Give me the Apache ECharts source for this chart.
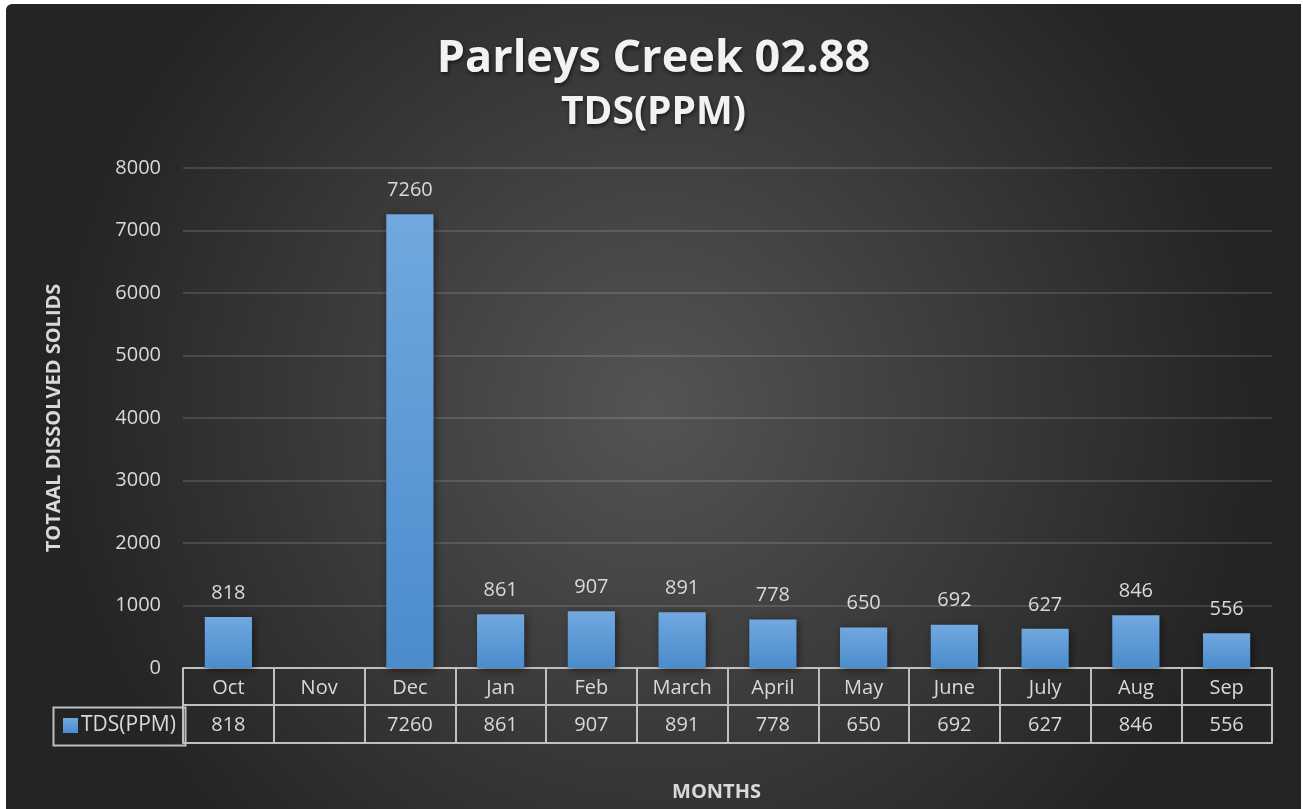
<!DOCTYPE html>
<html>
<head>
<meta charset="utf-8">
<script src="https://cdn.jsdelivr.net/npm/echarts@6/dist/echarts.min.js"></script>
<style>
    html, body { margin: 0; padding: 0; background: #fff; }
    #chart { position: absolute; left: 6px; top: 4px; width: 1295px; height: 805px; border-radius: 6px 0 0 0; overflow: hidden; }
</style>
</head>
<body>
<div id="chart"></div>
<script>
const months = ['Oct', 'Nov', 'Dec', 'Jan', 'Feb', 'March', 'April', 'May', 'June', 'July', 'Aug', 'Sep']
const tds = [818, null, 7260, 861, 907, 891, 778, 650, 692, 627, 846, 556]
const yTicks = { min: 0, max: 8000, interval: 1000 }

const chart = echarts.init(document.getElementById('chart'))
const font = 'Open Sans'
const lineColor = '#bfbfbf'
const textColor = '#d9d9d9'
const titleShadow = {
    textShadowColor: 'rgba(0,0,0,0.6)', textShadowBlur: 4, textShadowOffsetX: 1, textShadowOffsetY: 2
}

const options = {
    backgroundColor: {
        type: 'radial', x: 0.5, y: 0.5, r: 0.75,
        colorStops: [
            {offset: 0, color: '#545454'},
            {offset: 1, color: '#242424'}
        ]
    },
    title: {
        text: 'Parleys Creek 02.88',
        subtext: 'TDS(PPM)',
        left: 'center',
        top: 28,
        itemGap: 11,
        textStyle: Object.assign({fontFamily: font, fontWeight: 'bold', fontSize: 45, color: '#f2f2f2'}, titleShadow),
        subtextStyle: Object.assign({fontFamily: font, fontWeight: 'bold', fontSize: 39, color: '#f2f2f2'}, titleShadow)
    },
    legend: {
        left: 52, top: 706,
        itemWidth: 15, itemHeight: 15, itemGap: 4,
        icon: 'rect',
        textStyle: {fontFamily: font, fontSize: 21, color: textColor, padding: [0, 0, 0, -2]},
        data: ['TDS(PPM)']
    },
    grid: {left: 177, right: 29, top: 164, bottom: 141, outerBoundsMode: 'none'},
    xAxis: [
        {
            type: 'category',
            data: months,
            name: 'MONTHS',
            nameLocation: 'middle',
            nameGap: 114,
            nameTextStyle: {fontFamily: font, fontWeight: 'bold', fontSize: 20, color: textColor, padding: [0, 22, 0, 0]},
            axisLine: {lineStyle: {color: lineColor, width: 2}},
            axisTick: {show: true, interval: 0, length: 75, lineStyle: {color: lineColor, width: 2}},
            axisLabel: {interval: 0, margin: 10, fontFamily: font, fontSize: 20, color: textColor}
        },
        {
            type: 'category',
            data: months,
            position: 'bottom',
            offset: 37,
            axisLine: {lineStyle: {color: lineColor, width: 2}},
            axisTick: {show: false},
            axisLabel: {
                interval: 0, margin: 10, fontFamily: font, fontSize: 20, color: textColor,
                formatter: (v, i) => tds[i] == null ? '' : String(tds[i])
            }
        },
        {
            type: 'category',
            data: months,
            position: 'bottom',
            offset: 75,
            axisLine: {lineStyle: {color: lineColor, width: 2}},
            axisTick: {show: false},
            axisLabel: {show: false}
        }
    ],
    yAxis: {
        type: 'value',
        min: yTicks.min, max: yTicks.max, interval: yTicks.interval,
        name: 'TOTAAL DISSOLVED SOLIDS',
        nameLocation: 'middle',
        nameGap: 119,
        nameTextStyle: {fontFamily: font, fontWeight: 'bold', fontSize: 20, color: textColor},
        axisLine: {show: false},
        axisTick: {show: false},
        axisLabel: {margin: 22, fontFamily: font, fontSize: 20, color: textColor, formatter: v => String(v)},
        splitLine: {lineStyle: {color: 'rgba(255,255,255,0.13)', width: 2}}
    },
    graphic: [
        {
            type: 'rect',
            left: 45, top: 701,
            shape: {width: 132, height: 38},
            style: {fill: 'none', stroke: lineColor, lineWidth: 2}
        }
    ],
    series: [{
        name: 'TDS(PPM)',
        type: 'bar',
        data: tds,
        barWidth: '52%',
        itemStyle: {
            color: {
                type: 'linear', x: 0, y: 0, x2: 0, y2: 1,
                colorStops: [
                    {offset: 0, color: '#71a8df'},
                    {offset: 1, color: '#4a8ccd'}
                ]
            },
            shadowColor: 'rgba(0,0,0,0.5)', shadowBlur: 8, shadowOffsetX: 2, shadowOffsetY: 2
        },
        label: {
            show: true, position: 'top', distance: 14,
            fontFamily: font, fontSize: 20, color: textColor
        }
    }]
}

chart.setOption(options)
</script>
</body>
</html>
